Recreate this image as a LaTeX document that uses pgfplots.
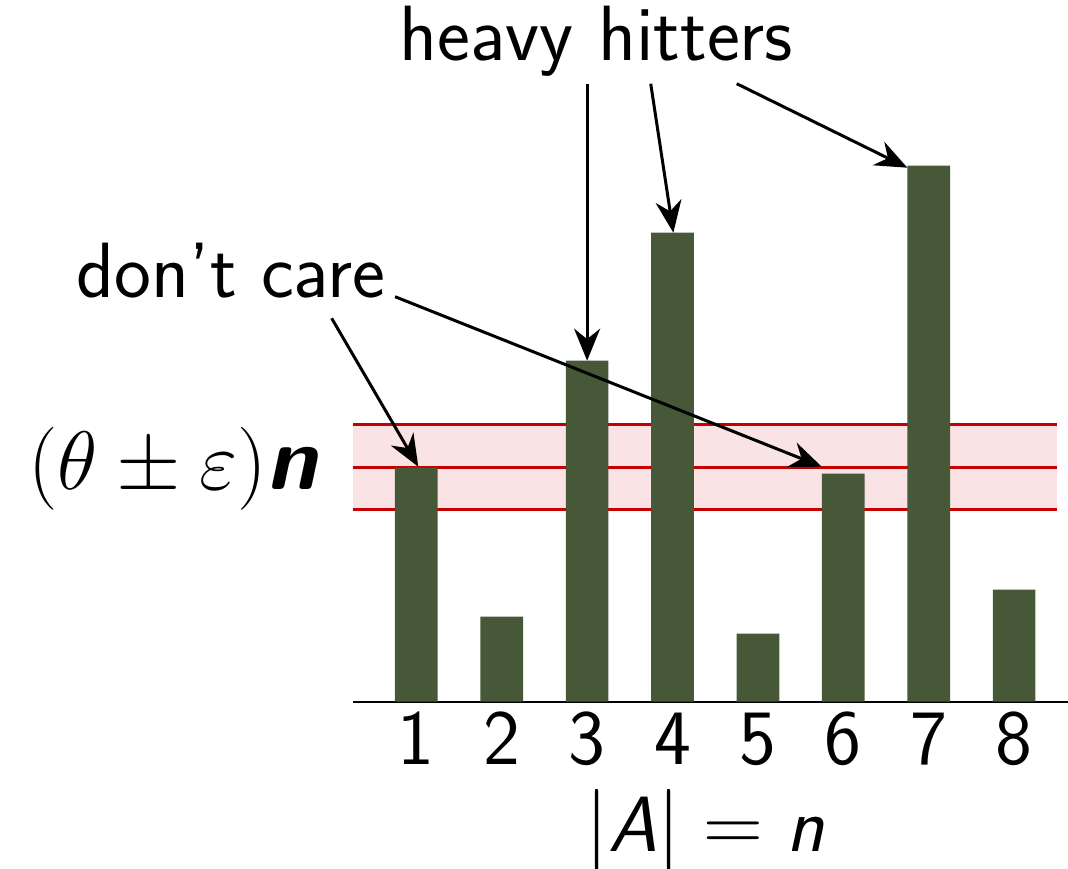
\documentclass[border=0pt]{standalone}
\usepackage{pgfplots}
\pgfplotsset{compat=1.18}
\usetikzlibrary{arrows.meta}

\definecolor{barGreen}{RGB}{70,88,56}
\definecolor{bandRed}{RGB}{196,0,0}
\definecolor{bandFill}{RGB}{249,227,228}

% item frequencies and threshold band
\pgfplotstableread{
x  f
1  2.34
2  0.85
3  3.41
4  4.69
5  0.68
6  2.28
7  5.36
8  1.12
}\freq
\def\thr{2.345}
\def\eps{0.425}

\begin{document}
\begin{tikzpicture}[>={Stealth[length=8pt,width=6.5pt]}]
\begin{axis}[
  x=21.35pt, y=25pt,
  xmin=0.255, xmax=8.7, ymin=0, ymax=7.02,
  axis x line=bottom, axis y line=none,
  axis line style={line width=0.55pt,-},
  xtick={1,...,8}, xticklabels={1,2,3,4,5,6,7,8},
  major tick length=0pt,
  xticklabel style={font=\sffamily\fontsize{19.6}{22}\selectfont, anchor=base, yshift=-15.8pt},
  clip=false,
  ybar, bar width=0.5,
]
  % tolerance band around the threshold
  \fill[bandFill] (axis cs:0.255,\thr-\eps) rectangle (axis cs:8.5,\thr+\eps);
  \draw[bandRed, line width=0.8pt] (axis cs:0.255,\thr+\eps) -- (axis cs:8.5,\thr+\eps);
  \draw[bandRed, line width=0.8pt] (axis cs:0.255,\thr) -- (axis cs:8.5,\thr);
  \draw[bandRed, line width=0.8pt] (axis cs:0.255,\thr-\eps) -- (axis cs:8.5,\thr-\eps);

  \addplot[fill=barGreen, draw=none] table[x=x, y=f] {\freq};

  \begin{scope}[font=\sffamily\fontsize{19.6}{22}\selectfont]
    \node[anchor=base] at (axis cs:3.11,6.41) {heavy hitters};
    \node[anchor=base] at (axis cs:-1.17,4.04) {don't care};
    \node[anchor=base] at (axis cs:4.38,-1.503)
      {$|\mbox{\itshape A}| = \mbox{\itshape n}$};
  \end{scope}
  \node[anchor=base east, inner sep=0pt, font=\fontsize{22.5}{25}\selectfont] at (axis cs:-0.153,2.117)
    {$(\theta \pm \varepsilon)\mbox{\sffamily\bfseries\itshape n}$};

  % annotation arrows
  \begin{scope}[line width=0.75pt, ->]
    \draw (axis cs:3.0,6.18) -- (axis cs:3.0,3.41);
    \draw (axis cs:3.745,6.18) -- (axis cs:4.01,4.69);
    \draw (axis cs:4.752,6.18) -- (axis cs:6.75,5.34);
    \draw (axis cs:0.009,3.834) -- (axis cs:1.023,2.35);
    \draw (axis cs:0.751,4.05) -- (axis cs:5.747,2.35);
  \end{scope}

  \coordinate (bbBL) at (axis cs:-3.875,-1.673);
  \coordinate (bbTR) at (axis cs:8.631,7.017);
\end{axis}
\pgfresetboundingbox
\path[use as bounding box] (bbBL) rectangle (bbTR);
\end{tikzpicture}
\end{document}
